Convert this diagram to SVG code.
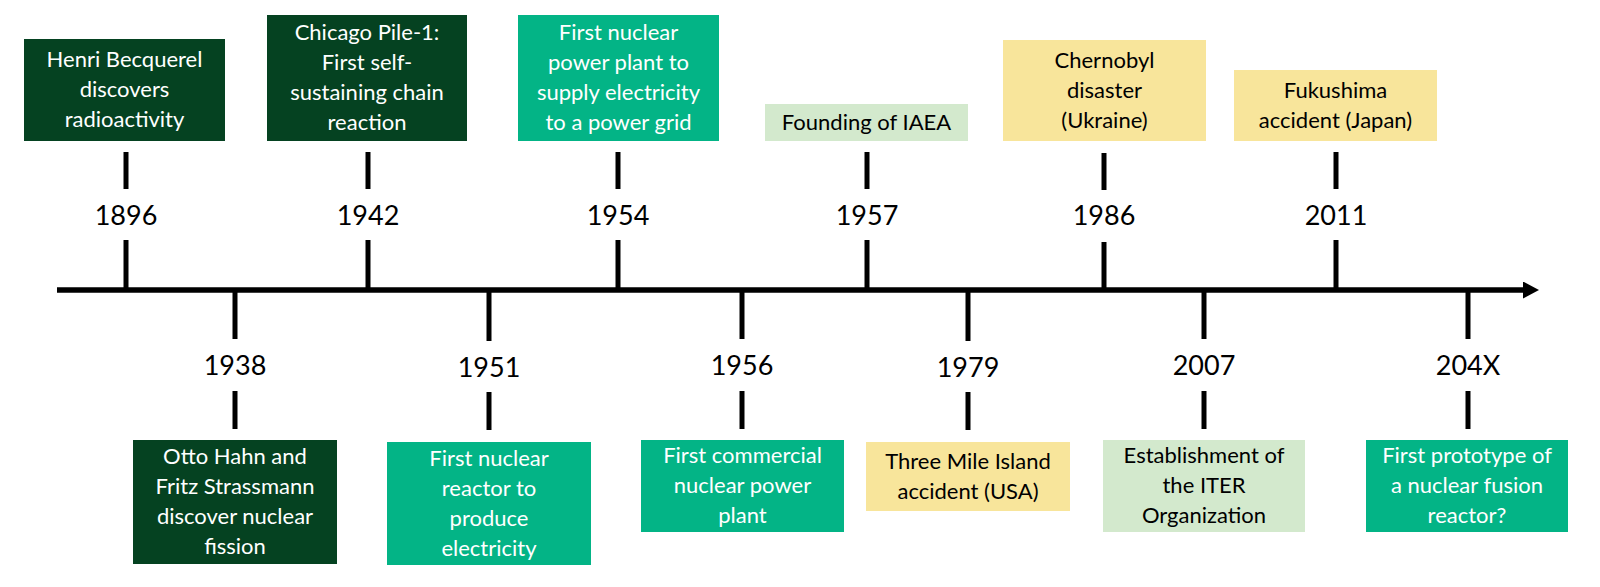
<svg xmlns="http://www.w3.org/2000/svg" width="1600" height="587" viewBox="0 0 1600 587">
<defs>
<style>
.bg{fill:#ffffff}
.dark{fill:#054221}
.teal{fill:#03B486}
.light{fill:#D3E9CD}
.yellow{fill:#F8E59B}
.t{font-family:Lato,"Liberation Sans",sans-serif;font-size:22px;text-anchor:middle}
.w{fill:#ffffff}
.k{fill:#000000}
.yr{font-family:Lato,"Liberation Sans",sans-serif;font-size:27px;text-anchor:middle;fill:#000000}
.tick{stroke:#000000;stroke-width:5;fill:none}
.axis{stroke:#000000;stroke-width:5.5;fill:none}
</style>
<marker id="arrow" viewBox="0 0 16 17" refX="0" refY="8.5" markerUnits="userSpaceOnUse" markerWidth="16" markerHeight="17" orient="auto">
<path d="M0,0 L16,8.5 L0,17 Z" fill="#000000"/>
</marker>
</defs>
<rect class="bg" x="0" y="0" width="1600" height="587"/>

<g id="connectors">
<line class="axis" x1="57" y1="290" x2="1523" y2="290" marker-end="url(#arrow)"/>
<!-- top ticks -->
<line class="tick" x1="126" y1="152" x2="126" y2="189"/>
<line class="tick" x1="126" y1="240" x2="126" y2="290"/>
<line class="tick" x1="368" y1="152" x2="368" y2="189"/>
<line class="tick" x1="368" y1="240" x2="368" y2="290"/>
<line class="tick" x1="618" y1="152" x2="618" y2="189"/>
<line class="tick" x1="618" y1="240" x2="618" y2="290"/>
<line class="tick" x1="867" y1="152" x2="867" y2="189"/>
<line class="tick" x1="867" y1="240" x2="867" y2="290"/>
<line class="tick" x1="1104" y1="153" x2="1104" y2="190"/>
<line class="tick" x1="1104" y1="242" x2="1104" y2="290"/>
<line class="tick" x1="1336" y1="152" x2="1336" y2="189"/>
<line class="tick" x1="1336" y1="240" x2="1336" y2="290"/>
<!-- bottom ticks -->
<line class="tick" x1="235" y1="290" x2="235" y2="339"/>
<line class="tick" x1="235" y1="391" x2="235" y2="429"/>
<line class="tick" x1="489" y1="290" x2="489" y2="341"/>
<line class="tick" x1="489" y1="392" x2="489" y2="430"/>
<line class="tick" x1="742" y1="290" x2="742" y2="339"/>
<line class="tick" x1="742" y1="391" x2="742" y2="429"/>
<line class="tick" x1="968" y1="290" x2="968" y2="341"/>
<line class="tick" x1="968" y1="392" x2="968" y2="430"/>
<line class="tick" x1="1204" y1="290" x2="1204" y2="339"/>
<line class="tick" x1="1204" y1="391" x2="1204" y2="429"/>
<line class="tick" x1="1468" y1="290" x2="1468" y2="339"/>
<line class="tick" x1="1468" y1="391" x2="1468" y2="429"/>
</g>

<g id="e1896">
<rect class="dark" x="24" y="39" width="201" height="102"/>
<text class="t w" x="124.5" y="67">Henri Becquerel</text>
<text class="t w" x="124.5" y="97">discovers</text>
<text class="t w" x="124.5" y="127">radioactivity</text>
<text class="yr" x="126" y="225">1896</text>
</g>

<g id="e1938">
<rect class="dark" x="133" y="440" width="204" height="124"/>
<text class="t w" x="235" y="464">Otto Hahn and</text>
<text class="t w" x="235" y="494">Fritz Strassmann</text>
<text class="t w" x="235" y="524">discover nuclear</text>
<text class="t w" x="235" y="554">fission</text>
<text class="yr" x="235" y="375">1938</text>
</g>

<g id="e1942">
<rect class="dark" x="267" y="15" width="200" height="126"/>
<text class="t w" x="367" y="40">Chicago Pile-1:</text>
<text class="t w" x="367" y="70">First self-</text>
<text class="t w" x="367" y="100">sustaining chain</text>
<text class="t w" x="367" y="130">reaction</text>
<text class="yr" x="368" y="225">1942</text>
</g>

<g id="e1951">
<rect class="teal" x="387" y="442" width="204" height="123"/>
<text class="t w" x="489" y="466">First nuclear</text>
<text class="t w" x="489" y="496">reactor to</text>
<text class="t w" x="489" y="526">produce</text>
<text class="t w" x="489" y="556">electricity</text>
<text class="yr" x="489" y="377">1951</text>
</g>

<g id="e1954">
<rect class="teal" x="518" y="15" width="201" height="126"/>
<text class="t w" x="618.5" y="40">First nuclear</text>
<text class="t w" x="618.5" y="70">power plant to</text>
<text class="t w" x="618.5" y="100">supply electricity</text>
<text class="t w" x="618.5" y="130">to a power grid</text>
<text class="yr" x="618" y="225">1954</text>
</g>

<g id="e1956">
<rect class="teal" x="641" y="440" width="203" height="92"/>
<text class="t w" x="742.5" y="463">First commercial</text>
<text class="t w" x="742.5" y="493">nuclear power</text>
<text class="t w" x="742.5" y="523">plant</text>
<text class="yr" x="742" y="375">1956</text>
</g>

<g id="e1957">
<rect class="light" x="765" y="104" width="203" height="37"/>
<text class="t k" x="866.5" y="129.5">Founding of IAEA</text>
<text class="yr" x="867" y="225">1957</text>
</g>

<g id="e1979">
<rect class="yellow" x="866" y="442" width="204" height="69"/>
<text class="t k" x="968" y="469">Three Mile Island</text>
<text class="t k" x="968" y="499">accident (USA)</text>
<text class="yr" x="968" y="377">1979</text>
</g>

<g id="e1986">
<rect class="yellow" x="1003" y="40" width="203" height="101"/>
<text class="t k" x="1104.5" y="68">Chernobyl</text>
<text class="t k" x="1104.5" y="98">disaster</text>
<text class="t k" x="1104.5" y="128">(Ukraine)</text>
<text class="yr" x="1104" y="225">1986</text>
</g>

<g id="e2007">
<rect class="light" x="1103" y="440" width="202" height="92"/>
<text class="t k" x="1204" y="463">Establishment of</text>
<text class="t k" x="1204" y="493">the ITER</text>
<text class="t k" x="1204" y="523">Organization</text>
<text class="yr" x="1204" y="375">2007</text>
</g>

<g id="e2011">
<rect class="yellow" x="1234" y="70" width="203" height="71"/>
<text class="t k" x="1335.5" y="97.5">Fukushima</text>
<text class="t k" x="1335.5" y="127.5">accident (Japan)</text>
<text class="yr" x="1336" y="225">2011</text>
</g>

<g id="e204X">
<rect class="teal" x="1366" y="440" width="202" height="92"/>
<text class="t w" x="1467" y="463">First prototype of</text>
<text class="t w" x="1467" y="493">a nuclear fusion</text>
<text class="t w" x="1467" y="523">reactor?</text>
<text class="yr" x="1468" y="375">204X</text>
</g>
</svg>
